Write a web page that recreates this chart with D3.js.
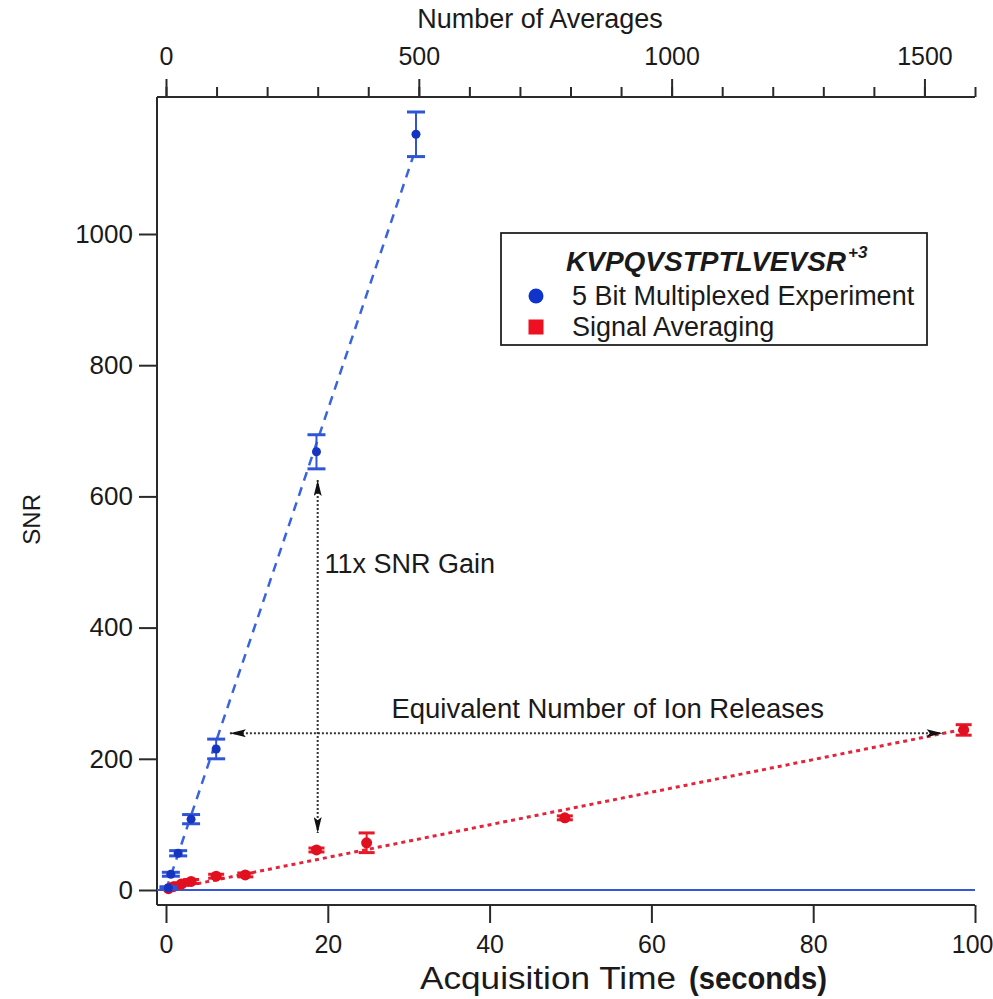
<!DOCTYPE html>
<html>
<head>
<meta charset="utf-8">
<script src="https://cdn.jsdelivr.net/npm/d3@7"></script>
<style>
  html, body { margin: 0; padding: 0; background: #fff; }
  svg { display: block; font-family: "Liberation Sans", Arial, Helvetica, sans-serif; }
</style>
</head>
<body>
<svg id="chart" width="993" height="999"></svg>
<script>
// Multiplexed (5 bit) experiment: acquisition time (s), SNR, error
const multiplexTime = [0.3, 0.6, 1.5, 3.1, 6.2, 18.6, 30.9];
const multiplexSNR  = [3, 24, 56, 108, 215, 668, 1152];
const multiplexErr  = [2, 3, 4, 7, 15, 26, 34];

// Conventional signal averaging
const averagingTime = [0.3, 0.9, 1.9, 3.1, 6.2, 9.8, 18.6, 24.8, 49.3, 98.6];
const averagingSNR  = [2, 5, 9, 13, 21, 23, 61, 72, 110, 244];
const averagingErr  = [1, 2, 2, 3, 3, 3, 3, 15, 3, 8];

// Linear trend lines (time, SNR) end points
const multiplexFit = [[0, 0], [30.6, 1120]];
const averagingFit = [[0, 0], [98.6, 245]];

// Axis ticks
const timeTicks = [0, 20, 40, 60, 80, 100];
const snrTicks = [0, 200, 400, 600, 800, 1000];
const averagesMajor = [0, 500, 1000, 1500];
const averagesMinor = d3.range(0, 1601, 100);

// Annotations
const gainArrow = { time: 18.75, from: 625, to: 87 };
const releaseArrow = { snr: 239, from: 7.9, to: 96 };

const svg = d3.select("#chart");

const x = d3.scaleLinear().domain([0, 100]).range([166, 975]);
const xTop = d3.scaleLinear().domain([0, 1600]).range([166, 975]);
const y = d3.scaleLinear().domain([0, 1000]).range([890, 234]);

const frameLeft = 157, frameRight = 975, frameTop = 97, frameBottom = 905;
const ink = "#1a1a1a";
const font = "Liberation Sans, Arial, sans-serif";

// ---- axes frame ----
const frame = svg.append("g").attr("stroke", "#2a2a2a").attr("stroke-width", 2).attr("fill", "none");
frame.append("line").attr("x1", frameLeft).attr("x2", frameLeft).attr("y1", frameTop).attr("y2", frameBottom);
frame.append("line").attr("x1", frameLeft).attr("x2", frameRight).attr("y1", frameBottom).attr("y2", frameBottom);
frame.append("line").attr("x1", frameLeft).attr("x2", frameRight).attr("y1", frameTop).attr("y2", frameTop);

// bottom axis
const bottomAxis = svg.append("g")
  .attr("transform", `translate(0,${frameBottom})`)
  .call(d3.axisBottom(x).tickValues(timeTicks).tickSize(18).tickPadding(12).tickFormat(d3.format("d")));
bottomAxis.select(".domain").remove();
bottomAxis.selectAll("line").attr("stroke", "#2a2a2a").attr("stroke-width", 2);
bottomAxis.selectAll("text").attr("font-size", 25).attr("fill", ink).style("font-family", font);
// keep the last label inside the page edge
bottomAxis.selectAll(".tick").filter(d => d === 100).select("text")
  .attr("text-anchor", "end").attr("x", 18);

// left axis
const leftAxis = svg.append("g")
  .attr("transform", `translate(${frameLeft},0)`)
  .call(d3.axisLeft(y).tickValues(snrTicks).tickSize(18).tickPadding(6).tickFormat(d3.format("d")));
leftAxis.select(".domain").remove();
leftAxis.selectAll("line").attr("stroke", "#2a2a2a").attr("stroke-width", 2);
leftAxis.selectAll("text").attr("font-size", 26).attr("fill", ink).style("font-family", font);

// top axis (number of averages)
const topMinor = svg.append("g")
  .attr("transform", `translate(0,${frameTop})`)
  .call(d3.axisTop(xTop).tickValues(averagesMinor).tickSize(10).tickFormat(""));
topMinor.select(".domain").remove();
topMinor.selectAll("line").attr("stroke", "#2a2a2a").attr("stroke-width", 2);

const topMajor = svg.append("g")
  .attr("transform", `translate(0,${frameTop})`)
  .call(d3.axisTop(xTop).tickValues(averagesMajor).tickSize(18).tickPadding(14).tickFormat(d3.format("d")));
topMajor.select(".domain").remove();
topMajor.selectAll("line").attr("stroke", "#2a2a2a").attr("stroke-width", 2);
topMajor.selectAll("text").attr("font-size", 25).attr("fill", ink).style("font-family", font);

// axis titles
svg.append("text")
  .attr("x", 540).attr("y", 28)
  .attr("text-anchor", "middle").attr("font-size", 27).attr("fill", ink)
  .text("Number of Averages");

svg.append("text")
  .attr("x", 420).attr("y", 989)
  .attr("font-size", 31).attr("fill", ink)
  .attr("textLength", 256).attr("lengthAdjust", "spacingAndGlyphs")
  .text("Acquisition Time");
svg.append("text")
  .attr("x", 689).attr("y", 989)
  .attr("font-size", 32).attr("font-weight", "bold").attr("fill", ink)
  .attr("textLength", 138).attr("lengthAdjust", "spacingAndGlyphs")
  .text("(seconds)");

svg.append("text")
  .attr("transform", `translate(40,${y(565)}) rotate(-90)`)
  .attr("text-anchor", "middle").attr("font-size", 24).attr("fill", ink)
  .text("SNR");

// ---- zero baseline ----
svg.append("line")
  .attr("x1", frameLeft).attr("x2", frameRight)
  .attr("y1", y(0)).attr("y2", y(0))
  .attr("stroke", "#3558d8").attr("stroke-width", 2);

// ---- trend lines ----
const line = d3.line().x(d => x(d[0])).y(d => y(d[1]));
svg.append("path").datum(averagingFit)
  .attr("d", line).attr("fill", "none")
  .attr("stroke", "#e3243a").attr("stroke-width", 3)
  .attr("stroke-dasharray", "4,4");
svg.append("path").datum(multiplexFit)
  .attr("d", line).attr("fill", "none")
  .attr("stroke", "#3a63e0").attr("stroke-width", 2.5)
  .attr("stroke-dasharray", "9,7");

// ---- annotation arrows ----
const defs = svg.append("defs");
defs.append("marker")
  .attr("id", "head").attr("viewBox", "0 0 20 10")
  .attr("refX", 20).attr("refY", 5)
  .attr("markerWidth", 20).attr("markerHeight", 8)
  .attr("markerUnits", "userSpaceOnUse")
  .attr("orient", "auto-start-reverse")
  .append("path").attr("d", "M0,0 L20,5 L0,10 L4,5 Z").attr("fill", "#111");

svg.append("line")
  .attr("x1", x(gainArrow.time)).attr("x2", x(gainArrow.time))
  .attr("y1", y(gainArrow.from)).attr("y2", y(gainArrow.to))
  .attr("stroke", "#333").attr("stroke-width", 2).attr("stroke-dasharray", "2,2")
  .attr("marker-start", "url(#head)").attr("marker-end", "url(#head)");

svg.append("line")
  .attr("x1", x(releaseArrow.from)).attr("x2", x(releaseArrow.to))
  .attr("y1", y(releaseArrow.snr)).attr("y2", y(releaseArrow.snr))
  .attr("stroke", "#333").attr("stroke-width", 2).attr("stroke-dasharray", "2,2")
  .attr("marker-start", "url(#head)").attr("marker-end", "url(#head)");

svg.append("text")
  .attr("x", x(19.6)).attr("y", y(498)).attr("dy", "0.35em")
  .attr("font-size", 27).attr("fill", ink)
  .text("11x SNR Gain");

svg.append("text")
  .attr("x", x(54.6)).attr("y", y(277)).attr("dy", "0.35em")
  .attr("text-anchor", "middle").attr("font-size", 27.5).attr("fill", ink)
  .text("Equivalent Number of Ion Releases");

// ---- data with error bars ----
function drawSeries(times, snr, err, barColor, markColor, capW, r) {
  const g = svg.append("g");
  const pts = times.map((t, i) => ({ t, v: snr[i], e: err[i] }));
  g.selectAll("line.bar").data(pts).join("line")
    .attr("x1", d => x(d.t)).attr("x2", d => x(d.t))
    .attr("y1", d => y(d.v - d.e)).attr("y2", d => y(d.v + d.e))
    .attr("stroke", barColor).attr("stroke-width", 2);
  g.selectAll("line.capTop").data(pts).join("line")
    .attr("x1", d => x(d.t) - capW / 2).attr("x2", d => x(d.t) + capW / 2)
    .attr("y1", d => y(d.v + d.e)).attr("y2", d => y(d.v + d.e))
    .attr("stroke", barColor).attr("stroke-width", 3);
  g.selectAll("line.capBot").data(pts).join("line")
    .attr("x1", d => x(d.t) - capW / 2).attr("x2", d => x(d.t) + capW / 2)
    .attr("y1", d => y(d.v - d.e)).attr("y2", d => y(d.v - d.e))
    .attr("stroke", barColor).attr("stroke-width", 3);
  g.selectAll("circle").data(pts).join("circle")
    .attr("cx", d => x(d.t)).attr("cy", d => y(d.v)).attr("r", r)
    .attr("fill", markColor);
}
drawSeries(averagingTime, averagingSNR, averagingErr, "#e8182a", "#e0101e", 16, 5.5);
drawSeries(multiplexTime, multiplexSNR, multiplexErr, "#2f55d6", "#1534c0", 18, 4.5);

// ---- legend ----
const lg = svg.append("g");
lg.append("rect")
  .attr("x", 501).attr("y", 233).attr("width", 426).attr("height", 112)
  .attr("fill", "#fff").attr("stroke", "#222").attr("stroke-width", 1.8);
const lt = lg.append("text")
  .attr("x", 566).attr("y", 271)
  .attr("font-size", 28).attr("font-weight", "bold").attr("font-style", "italic").attr("fill", ink);
lt.append("tspan").text("KVPQVSTPTLVEVSR");
lt.append("tspan").attr("font-size", 17).attr("dy", -13).attr("dx", 2).text("+3");
lg.append("circle").attr("cx", 536).attr("cy", 296).attr("r", 7.5).attr("fill", "#1033cc");
lg.append("text").attr("x", 572).attr("y", 305).attr("font-size", 27).attr("fill", ink)
  .text("5 Bit Multiplexed Experiment");
lg.append("rect").attr("x", 528.5).attr("y", 319.5).attr("width", 15).attr("height", 15).attr("fill", "#ee1020");
lg.append("text").attr("x", 572).attr("y", 336).attr("font-size", 27).attr("fill", ink)
  .text("Signal Averaging");
</script>
</body>
</html>
